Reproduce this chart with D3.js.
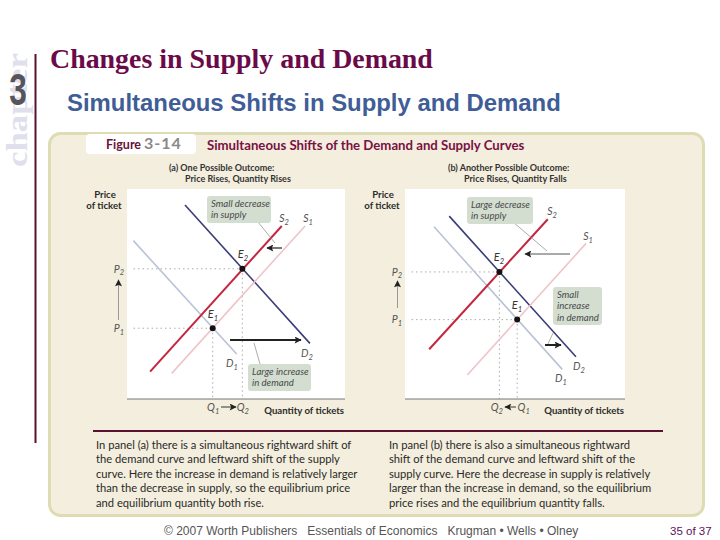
<!DOCTYPE html>
<html>
<head>
<meta charset="utf-8">
<title>Changes in Supply and Demand</title>
<style>
  html, body { margin: 0; padding: 0; background: #fff; }
  svg { display: block; }
  .fig { font-family: Lato, "Noto Sans", sans-serif; }
  .axisLabel { font-size: 9.6px; font-weight: 700; fill: #2b2b2b; }
  .note { font-size: 9.6px; font-style: italic; fill: #4a4a4a; }
  .curveLabel, .tickText { font-size: 10.5px; font-style: italic; fill: #555; }
  .pointLabel { font-size: 11px; font-style: italic; fill: #333; }
  .body { font-size: 11.2px; fill: #2a2a2a; }
  .tick line, .domain { display: none; }
</style>
</head>
<body>
<script src="https://cdnjs.cloudflare.com/ajax/libs/d3/7.8.5/d3.min.js"></script>
<script>
// curve ends and equilibria (quantity, price on a 0-100 scale)
var demandA1 = [[2.9, 75.4], [50.3, 21.4]];
var demandA2 = [[26.6, 92.4], [83.9, 26.5]];
var supplyA1 = [[20.5, 12.2], [81.7, 82.4]];
var supplyA2 = [[10.6, 13], [71, 82.4]];
var equilibriaA = [[39.3, 33.7], [52.9, 62]];

var demandB1 = [[13.2, 82], [71.5, 14.1]];
var demandB2 = [[20.1, 87.1], [77.7, 20.1]];
var supplyB1 = [[28.3, 11.4], [82.3, 74.1]];
var supplyB2 = [[11, 23.7], [64.9, 85.6]];
var equilibriaB = [[51, 37.8], [42.9, 60.5]];

var curveNames = ["D", "D", "S", "S"];
var curveSubs = ["1", "2", "1", "2"];
var pointSubs = ["1", "2"];

var textA = [
  "In panel (a) there is a simultaneous rightward shift of",
  "the demand curve and leftward shift of the supply",
  "curve. Here the increase in demand is relatively larger",
  "than the decrease in supply, so the equilibrium price",
  "and equilibrium quantity both rise."
];
var textB = [
  "In panel (b) there is also a simultaneous rightward",
  "shift of the demand curve and leftward shift of the",
  "supply curve. Here the decrease in supply is relatively",
  "larger than the increase in demand, so the equilibrium",
  "price rises and the equilibrium quantity falls."
];

var svg = d3.select("body").append("svg").attr("width", 720).attr("height", 540);

var defs = svg.append("defs");
defs.append("marker").attr("id", "head").attr("viewBox", "0 0 10 10")
    .attr("refX", 9).attr("refY", 5).attr("markerUnits", "userSpaceOnUse")
    .attr("markerWidth", 8).attr("markerHeight", 7).attr("orient", "auto")
  .append("path").attr("d", "M0,0L10,5L0,10L2,5Z").attr("fill", "#222");

// slide header
svg.append("text").attr("transform", "translate(27,167) rotate(-90)")
    .attr("font-family", "Liberation Serif").attr("font-weight", 700).attr("font-size", 30)
    .attr("textLength", 114).attr("lengthAdjust", "spacingAndGlyphs")
    .attr("fill", "#dfe0ec").text("chapter");
svg.append("text").attr("transform", "translate(18,105) scale(0.72,1)").attr("text-anchor", "middle")
    .attr("font-family", "Liberation Sans").attr("font-weight", 700).attr("font-size", 44)
    .attr("fill", "#55555b").text("3");
svg.append("line").attr("x1", 35.5).attr("x2", 35.5).attr("y1", 54).attr("y2", 443)
    .attr("stroke", "#5a1230").attr("stroke-width", 2);
svg.append("text").attr("x", 50).attr("y", 68)
    .attr("font-family", "Liberation Serif").attr("font-weight", 700).attr("font-size", 27.9)
    .attr("fill", "#6b0a48").text("Changes in Supply and Demand");
svg.append("text").attr("x", 67).attr("y", 111)
    .attr("font-family", "Liberation Sans").attr("font-weight", 700).attr("font-size", 23.9)
    .attr("fill", "#3f5d96").text("Simultaneous Shifts in Supply and Demand");

// figure background
var fig = svg.append("g").attr("class", "fig");
fig.append("rect").attr("x", 49.5).attr("y", 133.5).attr("width", 654).attr("height", 382).attr("rx", 11)
    .attr("fill", "#f3eedd").attr("stroke", "#dedcb4").attr("stroke-width", 3);
fig.append("rect").attr("x", 86).attr("y", 134).attr("width", 110).attr("height", 20).attr("rx", 4).attr("fill", "#fff");
fig.append("text").attr("x", 106).attr("y", 149).attr("font-size", 12.5).attr("font-weight", 700)
    .attr("fill", "#6a1238").text("Figure");
fig.append("text").attr("x", 144).attr("y", 149).attr("font-size", 16).attr("font-weight", 700)
    .attr("letter-spacing", 1).attr("fill", "#8a8a8a").text("3-14");
fig.append("text").attr("x", 207).attr("y", 150).attr("font-size", 13.2).attr("font-weight", 700)
    .attr("fill", "#7a1145").text("Simultaneous Shifts of the Demand and Supply Curves");

function drawPanel(o) {
  var x = d3.scaleLinear().domain([0, 100]).range([o.left, o.left + o.width]);
  var y = d3.scaleLinear().domain([0, 100]).range([399, 189]);
  var g = fig.append("g");
  var pts = o.points;

  g.append("rect").attr("x", x(0)).attr("y", y(100)).attr("width", o.width).attr("height", 210).attr("fill", "#fff");
  g.append("line").attr("x1", x(0)).attr("x2", x(100)).attr("y1", y(0)).attr("y2", y(0))
      .attr("stroke", "#777").attr("stroke-width", 1);

  // panel headings
  g.append("text").attr("x", o.headX).attr("y", 171).attr("font-size", 9).attr("font-weight", 700)
      .attr("fill", "#333").text(o.head[0]);
  g.append("text").attr("x", o.headX + 16).attr("y", 182).attr("font-size", 9).attr("font-weight", 700)
      .attr("fill", "#333").text(o.head[1]);

  // axis titles
  g.append("text").attr("class", "axisLabel").attr("x", o.left - 22).attr("y", 198).attr("text-anchor", "middle").text("Price");
  g.append("text").attr("class", "axisLabel").attr("x", o.left - 23).attr("y", 209).attr("text-anchor", "middle").text("of ticket");
  g.append("text").attr("class", "axisLabel").attr("x", x(100) - 1).attr("y", 414).attr("text-anchor", "end").text("Quantity of tickets");

  // Q and P ticks on the two equilibria
  function sub(sel, name, nudge) {
    sel.each(function (d, i) {
      var t = d3.select(this).text("").attr("class", "tickText");
      if (nudge) t.attr("dx", nudge[i]);
      t.append("tspan").text(name);
      t.append("tspan").attr("dy", 2.5).attr("font-size", 7.5).text(pointSubs[i]);
    });
  }
  var xAxis = g.append("g").attr("transform", "translate(0," + y(0) + ")")
      .call(d3.axisBottom(x).tickValues(pts.map(function (p) { return p[0]; })).tickSize(0).tickPadding(5));
  sub(xAxis.selectAll("text"), "Q", o.qNudge);
  var yAxis = g.append("g").attr("transform", "translate(" + x(0) + ",0)")
      .call(d3.axisLeft(y).tickValues(pts.map(function (p) { return p[1]; })).tickSize(0).tickPadding(3));
  sub(yAxis.selectAll("text"), "P");
  xAxis.attr("font-family", null).attr("font-size", null);
  yAxis.attr("font-family", null).attr("font-size", null);

  // dotted guides
  pts.forEach(function (p) {
    g.append("line").attr("x1", x(p[0])).attr("x2", x(p[0])).attr("y1", y(p[1])).attr("y2", y(0))
        .attr("stroke", "#888").attr("stroke-width", 0.7).attr("stroke-dasharray", "1.5 3");
    g.append("line").attr("x1", x(3)).attr("x2", x(p[0])).attr("y1", y(p[1])).attr("y2", y(p[1]))
        .attr("stroke", "#888").attr("stroke-width", 0.7).attr("stroke-dasharray", "1.5 3");
  });

  // curves
  var line = d3.line().x(function (d) { return x(d[0]); }).y(function (d) { return y(d[1]); });
  var colors = ["#b9c3d6", "#3a3c78", "#eec4c8", "#c4263f"];
  var widths = [1.6, 1.6, 1.6, 2];
  o.curves.forEach(function (c, i) {
    g.append("path").attr("d", line(c)).attr("fill", "none").attr("stroke", colors[i]).attr("stroke-width", widths[i]);
  });
  g.selectAll(".eq").data(pts).enter().append("circle").attr("class", "eq")
      .attr("cx", function (d) { return x(d[0]); }).attr("cy", function (d) { return y(d[1]); })
      .attr("r", 3).attr("fill", "#111");

  // curve and point labels
  function subLabel(cls, px, py, name, s) {
    var t = g.append("text").attr("class", cls).attr("x", px).attr("y", py).attr("text-anchor", "middle");
    t.append("tspan").text(name);
    t.append("tspan").attr("dy", 2.5).attr("font-size", 7.5).text(s);
  }
  o.curveLabelAt.forEach(function (p, i) { subLabel("curveLabel", p[0], p[1], curveNames[i], curveSubs[i]); });
  o.pointLabelAt.forEach(function (p, i) { subLabel("pointLabel", p[0], p[1], "E", pointSubs[i]); });

  // shift arrows
  o.arrows.forEach(function (a) {
    g.append("line").attr("x1", a[0]).attr("y1", a[1]).attr("x2", a[2]).attr("y2", a[3])
        .attr("stroke", a[4] || "#999").attr("stroke-width", a[5] || 1).attr("marker-end", "url(#head)");
  });

  // callouts
  o.boxes.forEach(function (b) {
    g.append("line").attr("x1", b.lead[0]).attr("y1", b.lead[1]).attr("x2", b.lead[2]).attr("y2", b.lead[3])
        .attr("stroke", "#888").attr("stroke-width", 0.7);
    g.append("rect").attr("x", b.x).attr("y", b.y).attr("width", b.w).attr("height", b.h).attr("rx", 3).attr("fill", "#d3ddd0");
    b.text.forEach(function (t, i) {
      g.append("text").attr("class", "note").attr("x", b.x + 4).attr("y", b.y + 11 + i * 11.3).text(t);
    });
  });

  // explanation below the rule
  o.text.forEach(function (t, i) {
    g.append("text").attr("class", "body").attr("x", o.textX).attr("y", 449 + i * 14.4).text(t);
  });
}

drawPanel({
  left: 127, width: 218, headX: 169,
  head: ["(a)  One Possible Outcome:", "Price Rises, Quantity Rises"],
  curves: [demandA1, demandA2, supplyA1, supplyA2],
  points: equilibriaA,
  curveLabelAt: [[232, 367], [307, 357], [308, 222], [284, 222]],
  pointLabelAt: [[213, 318], [243, 258]],
  arrows: [
    [118.5, 320, 118.5, 280],
    [221, 407, 236, 407, "#333"],
    [230, 340, 301, 340, "#222", 2],
    [282, 248, 267, 248, "#555", 1.6]
  ],
  boxes: [
    {x: 207, y: 196, w: 64, h: 27, text: ["Small decrease", "in supply"], lead: [258, 222, 275, 243]},
    {x: 248, y: 364, w: 63, h: 27, text: ["Large increase", "in demand"], lead: [254, 343, 260, 364]}
  ],
  text: textA, textX: 96
});

drawPanel({
  left: 405, width: 220, headX: 448,
  head: ["(b)  Another Possible Outcome:", "Price Rises, Quantity Falls"],
  curves: [demandB1, demandB2, supplyB1, supplyB2],
  points: equilibriaB,
  qNudge: [6, -3],
  curveLabelAt: [[561, 382], [579, 370], [588, 240], [552, 215]],
  pointLabelAt: [[517, 309], [499, 261]],
  arrows: [
    [397.5, 308, 397.5, 281],
    [516, 407, 505, 407, "#333"],
    [570, 254, 525, 254, "#555", 1],
    [545, 345, 561, 345, "#222", 2]
  ],
  boxes: [
    {x: 467, y: 197, w: 66, h: 27, text: ["Large decrease", "in supply"], lead: [513, 222, 547, 251]},
    {x: 553, y: 287, w: 49, h: 38, text: ["Small", "increase", "in demand"], lead: [553, 333, 548, 344]}
  ],
  text: textB, textX: 389
});

fig.append("line").attr("x1", 93).attr("x2", 663).attr("y1", 431).attr("y2", 431)
    .attr("stroke", "#5a1233").attr("stroke-width", 2);

// footer
svg.append("text").attr("x", 164).attr("y", 535).attr("font-family", "Liberation Sans").attr("font-size", 12)
    .attr("fill", "#555").attr("xml:space", "preserve")
    .text("© 2007 Worth Publishers   Essentials of Economics   Krugman • Wells • Olney");
svg.append("text").attr("x", 670).attr("y", 535).attr("font-family", "Liberation Sans").attr("font-size", 11.5)
    .attr("fill", "#5c0f5c").text("35 of 37");
</script>
</body>
</html>
